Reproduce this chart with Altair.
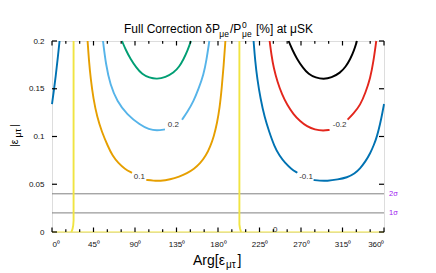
import altair as alt
import pandas as pd

FONT = "Liberation Sans"

# ---------------- contour curves (Arg in degrees, |eps| value) ----------------
# +0.1 contour (orange), split by its label
c01_arg_a = [38.6, 40.0, 42.0, 44.8, 49.0, 54.0, 60.5, 65.5, 72.0, 79.0, 86.7]
c01_mag_a = [0.200, 0.180, 0.160, 0.140, 0.120, 0.105, 0.090, 0.080, 0.072, 0.066, 0.062]
c01_arg_b = [102.2, 110.0, 117.0, 128.3, 138.0, 146.4, 154.0, 160.8, 167.0, 171.6, 175.5, 179.0, 181.8, 184.0, 186.2, 188.0]
c01_mag_b = [0.0546, 0.0537, 0.0534, 0.055, 0.058, 0.0615, 0.066, 0.072, 0.080, 0.0895, 0.100, 0.114, 0.130, 0.150, 0.175, 0.200]

# +0.2 contour (sky blue)
c02_arg_a = [55.3, 58.5, 63.2, 70.5, 81.3, 95.7, 105.0, 113.8, 122.5]
c02_mag_a = [0.200, 0.175, 0.154, 0.137, 0.123, 0.112, 0.1075, 0.106, 0.1075]
c02_arg_b = [141.0, 147.0, 153.5, 159.0, 164.4, 167.5, 170.6]
c02_mag_b = [0.1176, 0.126, 0.137, 0.150, 0.165, 0.180, 0.200]

# +0.3 contour (green)
c03_arg = [75.9, 79.8, 85.2, 91.5, 97.7, 105.5, 113.8, 123.0, 131.9, 138.0, 142.7, 147.0, 150.7]
c03_mag = [0.200, 0.191, 0.181, 0.172, 0.165, 0.1615, 0.160, 0.162, 0.1667, 0.173, 0.181, 0.190, 0.200]

# -0.1 contour (dark blue), split by label, wrapping round 360 -> 0
m01_arg_a = [218.6, 220.2, 222.6, 226.0, 230.5, 235.5, 241.0, 246.5, 253.0, 259.5, 266.0]
m01_mag_a = [0.200, 0.180, 0.160, 0.140, 0.120, 0.105, 0.090, 0.080, 0.072, 0.066, 0.062]
m01_arg_b = [283.7, 290.0, 298.2, 310.0, 319.9, 328.0, 334.3, 340.0, 345.1, 349.0, 352.4, 355.8, 358.5, 360.0]
m01_mag_b = [0.0544, 0.0537, 0.0534, 0.055, 0.057, 0.061, 0.0667, 0.074, 0.0825, 0.091, 0.100, 0.113, 0.126, 0.134]
m01_arg_c = [0.0, 2.0, 4.0, 6.0, 8.2]
m01_mag_c = [0.134, 0.148, 0.163, 0.180, 0.200]

# -0.2 contour (red)
m02_arg_a = [236.0, 238.0, 240.3, 244.5, 249.4, 255.0, 262.0, 269.0, 276.5, 285.0, 294.5, 301.0]
m02_mag_a = [0.200, 0.185, 0.172, 0.157, 0.144, 0.133, 0.123, 0.116, 0.1105, 0.107, 0.106, 0.107]
m02_arg_b = [320.5, 327.0, 334.3, 340.0, 345.1, 348.5, 351.6]
m02_mag_b = [0.1176, 0.124, 0.133, 0.146, 0.161, 0.178, 0.200]

# -0.3 contour (black)
m03_arg = [256.5, 260.5, 265.7, 272.0, 278.2, 286.0, 294.5, 303.0, 312.6, 318.5, 323.4, 327.5, 330.7]
m03_mag = [0.200, 0.191, 0.181, 0.172, 0.165, 0.1615, 0.160, 0.1615, 0.1667, 0.173, 0.181, 0.190, 0.200]

# 0 contour (yellow)
z_arg_a = [23.4, 23.4, 23.0, 22.2, 21.0]
z_mag_a = [0.200, 0.012, 0.007, 0.003, 0.000]
z_arg_b = [203.2, 203.2, 203.8, 205.0]
z_mag_b = [0.200, 0.008, 0.004, 0.000]
z_arg_c = [0.0, 360.0]
z_mag_c = [0.000, 0.000]

# contour labels
lab_text = ["0.2", "-0.2", "0.1", "-0.1", "0"]
lab_arg = [131.5, 311.9, 94.8, 275.5, 242.0]
lab_mag = [0.112, 0.112, 0.0577, 0.0577, 0.0025]

# sigma lines
sig_mag = [0.04, 0.02]
sig_text = ["2σ", "1σ"]

x_tick_values = [0, 45, 90, 135, 180, 225, 270, 315, 360]
x_minor_values = [15, 30, 60, 75, 105, 120, 150, 165, 195, 210, 240, 255, 285, 300, 330, 345]
y_tick_values = [0, 0.05, 0.1, 0.15, 0.2]

curve_names = ["p01", "p02", "p03", "m01", "m02", "m03"]
curve_colors = ["#E69F00", "#56B4E9", "#009E73", "#0072B2", "#E3261C", "#000000"]

# ---------------- build tables ----------------
def rows(name, seg, args, mags):
    return [{"curve": name, "seg": name + seg, "idx": i, "arg": a, "mag": m}
            for i, (a, m) in enumerate(zip(args, mags))]

cur = []
cur += rows("p01", "a", c01_arg_a, c01_mag_a) + rows("p01", "b", c01_arg_b, c01_mag_b)
cur += rows("p02", "a", c02_arg_a, c02_mag_a) + rows("p02", "b", c02_arg_b, c02_mag_b)
cur += rows("p03", "a", c03_arg, c03_mag)
cur += rows("m01", "a", m01_arg_a, m01_mag_a) + rows("m01", "b", m01_arg_b, m01_mag_b) + rows("m01", "c", m01_arg_c, m01_mag_c)
cur += rows("m02", "a", m02_arg_a, m02_mag_a) + rows("m02", "b", m02_arg_b, m02_mag_b)
cur += rows("m03", "a", m03_arg, m03_mag)
curves_df = pd.DataFrame(cur)

yel = rows("z", "a", z_arg_a, z_mag_a) + rows("z", "b", z_arg_b, z_mag_b)
yel_df = pd.DataFrame(yel)
yel_bottom_df = pd.DataFrame(rows("z", "c", z_arg_c, z_mag_c))

lab_df = pd.DataFrame({"t": lab_text, "arg": lab_arg, "mag": lab_mag})
sig_df = pd.DataFrame({"t": sig_text, "mag": sig_mag, "x0": [0] * 2, "x1": [360] * 2})
xt_df = pd.DataFrame({"arg": x_tick_values})
xm_df = pd.DataFrame({"arg": x_minor_values})
yt_df = pd.DataFrame({"mag": y_tick_values})

W, H = 332, 191

xs = alt.Scale(domain=[0, 360], nice=False, zero=False)
ys = alt.Scale(domain=[0, 0.2], nice=False, zero=True)

X = alt.X("arg:Q", scale=xs, axis=alt.Axis(
    values=x_tick_values, labelExpr="datum.value + '⁰'", title=None, ticks=False,
    domain=False, grid=False, labelFontSize=8, labelFont=FONT, labelColor="#111",
    labelPadding=8))
Y = alt.Y("mag:Q", scale=ys, axis=alt.Axis(
    values=y_tick_values, format="~g", title=None, ticks=False, domain=False,
    grid=False, labelFontSize=8, labelFont=FONT, labelColor="#111", labelPadding=8))

base_curves = alt.Chart(curves_df).mark_line(strokeWidth=1.9, interpolate="basis").encode(
    x=X, y=Y,
    color=alt.Color("curve:N", scale=alt.Scale(domain=curve_names, range=curve_colors), legend=None),
    detail="seg:N", order="idx:Q")

yellow = alt.Chart(yel_df).mark_line(strokeWidth=1.9, color="#F0E442").encode(
    x=alt.X("arg:Q", scale=xs), y=alt.Y("mag:Q", scale=ys), detail="seg:N", order="idx:Q")
yellow_bottom = alt.Chart(yel_bottom_df).mark_line(strokeWidth=2, color="#F0E442", strokeOpacity=0.5).encode(
    x=alt.X("arg:Q", scale=xs), y=alt.Y("mag:Q", scale=ys))

sig_rules = alt.Chart(sig_df).mark_rule(color="#808080", strokeWidth=1).encode(
    x=alt.X("x0:Q", scale=xs), x2="x1:Q", y=alt.Y("mag:Q", scale=ys))
sig_text_m = alt.Chart(sig_df).mark_text(align="left", baseline="middle", dx=5, fontSize=7.5,
                                         font=FONT, color="#A020F0").encode(
    x=alt.X("x1:Q", scale=xs), y=alt.Y("mag:Q", scale=ys), text="t:N")

labels = alt.Chart(lab_df).mark_text(fontSize=8, font=FONT, color="#333", baseline="middle").encode(
    x=alt.X("arg:Q", scale=xs), y=alt.Y("mag:Q", scale=ys), text="t:N")

# tick marks (inside frame)
xt_bot = alt.Chart(xt_df).mark_rule(color="black", strokeWidth=1.2).encode(
    x=alt.X("arg:Q", scale=xs), y=alt.value(H), y2=alt.value(H - 4.5))
xt_top = alt.Chart(xt_df).mark_rule(color="black", strokeWidth=1.2).encode(
    x=alt.X("arg:Q", scale=xs), y=alt.value(0), y2=alt.value(4.5))
xm_bot = alt.Chart(xm_df).mark_rule(color="black", strokeWidth=1.2).encode(
    x=alt.X("arg:Q", scale=xs), y=alt.value(H), y2=alt.value(H - 2.7))
xm_top = alt.Chart(xm_df).mark_rule(color="black", strokeWidth=1.2).encode(
    x=alt.X("arg:Q", scale=xs), y=alt.value(0), y2=alt.value(2.7))
yt_l = alt.Chart(yt_df).mark_rule(color="black", strokeWidth=1.2).encode(
    y=alt.Y("mag:Q", scale=ys), x=alt.value(0), x2=alt.value(5))
yt_r = alt.Chart(yt_df).mark_rule(color="black", strokeWidth=1.2).encode(
    y=alt.Y("mag:Q", scale=ys), x=alt.value(W), x2=alt.value(W - 5))


def piece(s, x, y, size, angle=0):
    return alt.Chart(pd.DataFrame({"t": [s]})).mark_text(
        text=s, fontSize=size, font=FONT, align="left", baseline="alphabetic",
        angle=angle, color="black").encode(x=alt.value(x), y=alt.value(y))


title_parts = [
    piece("Full Correction δP", 72.0, -7.7, 12),
    piece("μe", 167.3, -4.0, 8.5),
    piece("/P", 178.0, -7.7, 12),
    piece("0", 190.0, -13.5, 8.5),
    piece("μe", 190.0, -4.0, 8.5),
    piece("[%] at μSK", 204.0, -7.7, 12),
]
xtitle_parts = [
    piece("Arg[ε", 141.0, 224, 14),
    piece("μτ", 174.0, 226.5, 10),
    piece("]", 185.5, 224, 14),
]
ytitle_parts = [
    piece("|ε", -34.0, 106.0, 10.5, angle=270),
    piece("μτ", -31.0, 96.5, 9, angle=270),
    piece("|", -34.0, 86.0, 10.5, angle=270),
]

chart = alt.layer(
    sig_rules, yellow_bottom, yellow, base_curves, labels, sig_text_m,
    xt_bot, xt_top, xm_bot, xm_top, yt_l, yt_r,
    *title_parts, *xtitle_parts, *ytitle_parts,
).properties(
    width=W, height=H,
    autosize=alt.AutoSizeParams(type="none"),
    padding={"left": 44, "top": 33, "right": 44, "bottom": 41},
).configure_view(stroke="black", strokeWidth=1.5).configure(background="white")

chart.save("out.html", embed_options={"renderer": "svg", "actions": False})
